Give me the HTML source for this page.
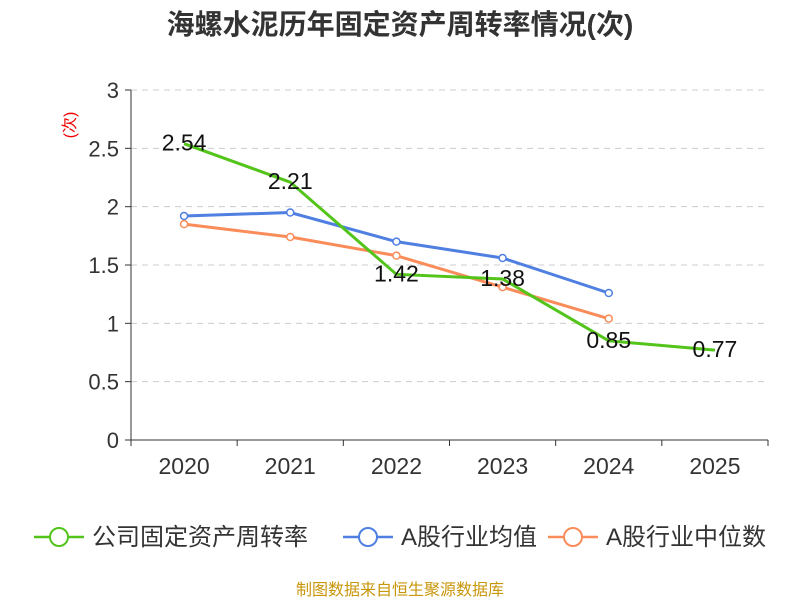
<!DOCTYPE html>
<html><head><meta charset="utf-8"><style>
body{margin:0;background:#fff;}
svg text{font-family:"Liberation Sans","Noto Sans CJK SC",sans-serif;}
</style></head><body>
<svg id="c" width="800" height="600" xmlns="http://www.w3.org/2000/svg">
<text x="400" y="34" text-anchor="middle" font-size="28" font-weight="bold" fill="#333">海螺水泥历年固定资产周转率情况(次)</text>
<text x="0" y="0" transform="translate(75,125) rotate(-90)" text-anchor="middle" font-size="16" fill="#e00">(次)</text>
<g id="grid"></g><g id="axes"></g><g id="series"></g><g id="legend"></g>
<text x="400" y="595" text-anchor="middle" font-size="16" fill="#c8960a">制图数据来自恒生聚源数据库</text>
</svg>
<script>
const categories=["2020","2021","2022","2023","2024","2025"];
const yTicks=[0,0.5,1,1.5,2,2.5,3];
const yTickLabels=["0","0.5","1","1.5","2","2.5","3"];
const companyVals=[2.54,2.21,1.42,1.38,0.85,0.77];
const avgVals=[1.92,1.95,1.70,1.56,1.26];
const medVals=[1.85,1.74,1.58,1.31,1.04];
const seriesNames=["公司固定资产周转率","A股行业均值","A股行业中位数"];
const NS="http://www.w3.org/2000/svg";
const L=131,R=768,T=90,B=440;
const band=(R-L)/categories.length;
const x=i=>L+band*(i+0.5);
const y=v=>B-(v/3)*(B-T);
function mk(tag,attrs,parent){const e=document.createElementNS(NS,tag);for(const k in attrs)e.setAttribute(k,attrs[k]);parent.appendChild(e);return e;}
const grid=document.getElementById('grid'),axes=document.getElementById('axes'),ser=document.getElementById('series'),leg=document.getElementById('legend');
yTicks.forEach((t,i)=>{
 if(t>0){const g=mk('line',{x1:L,x2:R,y1:y(t),y2:y(t),stroke:'#ccc','stroke-dasharray':'6,5'},grid);
 
 }
 const tk=mk('line',{x1:L-6,x2:L,y1:y(t),y2:y(t),stroke:'#333'},axes);
 
 
 const lb=mk('text',{x:L-12,y:y(t)+8,'text-anchor':'end','font-size':22,fill:'#333'},axes);lb.textContent=yTickLabels[i];
 
 
});
const ya=mk('line',{x1:L,x2:L,y1:T,y2:B,stroke:'#333'},axes);


const xa=mk('line',{x1:L,x2:R,y1:B,y2:B,stroke:'#333'},axes);


for(let i=0;i<=categories.length;i++){const t=mk('line',{x1:L+band*i,x2:L+band*i,y1:B,y2:B+6,stroke:'#333'},axes);
 
 }
categories.forEach((c,i)=>{const t=mk('text',{x:x(i),y:B+34,'text-anchor':'middle','font-size':23,fill:'#333'},axes);t.textContent=c;
 
 });
function line(vals,color,name,markers,labels){
 const g=mk('g',{},ser);
 
 
 const p=mk('polyline',{points:vals.map((v,i)=>x(i)+','+y(v)).join(' '),fill:'none',stroke:color,'stroke-width':3},g);
 
 
 vals.forEach((v,i)=>{
  if(markers){const c=mk('circle',{cx:x(i),cy:y(v),r:3.5,fill:'#fff',stroke:color,'stroke-width':1.5},g);
   
   }
  if(labels){const t=mk('text',{x:x(i),y:y(v)+7,'text-anchor':'middle','font-size':23,fill:'#111'},g);t.textContent=v.toFixed(2);
   
   }
 });
}
line(avgVals,'#4f7fe0','avg-series',true,false);
line(medVals,'#fa8c5a','median-series',true,false);
line(companyVals,'#52c41a','company-series',false,true);
const legItems=[[34,'#52c41a'],[343,'#4f7fe0'],[548,'#fa8c5a']];
legItems.forEach((it,i)=>{
 const g=mk('g',{},leg);
 
 
 mk('line',{x1:it[0],x2:it[0]+50,y1:537,y2:537,stroke:it[1],'stroke-width':2.5},g);
 mk('circle',{cx:it[0]+25,cy:537,r:9,fill:'#fff',stroke:it[1],'stroke-width':2},g);
 const t=mk('text',{x:it[0]+58,y:545,'font-size':24,fill:'#333'},g);t.textContent=seriesNames[i];
});
</script>
</body></html>
